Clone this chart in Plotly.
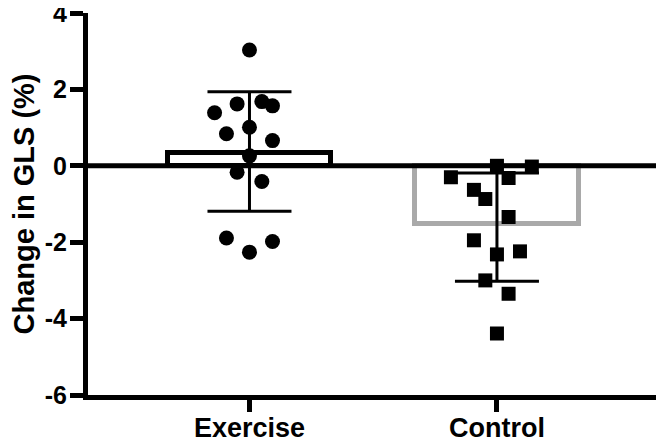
import plotly.graph_objects as go

# Group summary (bar height and error bar ends)
groups = ["Exercise", "Control"]
group_x = [1, 2]
bar_mean = [0.34, -1.53]
err_plus = [1.60, 1.34]
err_minus = [1.53, 1.49]

# Individual subjects
ex_change = [3.03, 1.62, 1.68, 1.57, 1.39, 1.01, 0.84, 0.66, 0.26, -0.17, -0.41, -1.89, -1.98, -2.26]
ex_jitter = [0, -0.05, 0.05, 0.093, -0.141, 0, -0.093, 0.093, 0, -0.05, 0.05, -0.093, 0.093, 0]
ct_change = [0.0, -0.02, -0.30, -0.32, -0.63, -0.87, -1.34, -1.95, -2.24, -2.32, -3.00, -3.35, -4.39]
ct_jitter = [0, 0.141, -0.186, 0.047, -0.093, -0.047, 0.047, -0.093, 0.093, 0, -0.047, 0.047, 0]

y_ticks = [-6, -4, -2, 0, 2, 4]
y_ticktext = ["-6", "-4", "-2", "0", "2", "4"]

FONT = "Arial, Liberation Sans, sans-serif"

fig = go.Figure()

fig.add_trace(go.Bar(
    x=group_x, y=bar_mean, width=0.66,
    marker=dict(color="white", line=dict(color=["black", "#a9a9a9"], width=5)),
    error_y=dict(type="data", symmetric=False, array=err_plus, arrayminus=err_minus,
                 color="black", thickness=3, width=42),
    showlegend=False))

fig.add_trace(go.Scatter(
    x=[group_x[0] + j for j in ex_jitter], y=ex_change, mode="markers",
    marker=dict(symbol="circle", size=15, color="black"), showlegend=False))

fig.add_trace(go.Scatter(
    x=[group_x[1] + j for j in ct_jitter], y=ct_change, mode="markers",
    marker=dict(symbol="square", size=14, color="black"), showlegend=False))

# zero reference line drawn over the bar outlines
fig.add_hline(y=0, line=dict(color="black", width=5), layer="above")

# page body has an 8px margin, so the figure is sized to fill the rest of the window
fig.update_layout(
    width=656, height=434,
    margin=dict(l=80, r=0, t=5, b=47),
    plot_bgcolor="white", paper_bgcolor="white",
    font=dict(family=FONT, color="black"),
    bargap=0,
)
fig.update_xaxes(
    range=[0.3475, 2.675], tickvals=group_x, ticktext=groups,
    showline=True, linecolor="black", linewidth=5,
    ticks="outside", ticklen=12, tickwidth=5, tickcolor="black",
    tickfont=dict(size=27, family=FONT, weight="bold"),
    ticklabelstandoff=-7,
    automargin=False,
    showgrid=False, zeroline=False)
fig.update_yaxes(
    range=[-6, 4], tickvals=y_ticks, ticktext=y_ticktext,
    showline=True, linecolor="black", linewidth=5,
    ticks="outside", ticklen=13, tickwidth=5, tickcolor="black",
    tickfont=dict(size=25, family=FONT, weight="bold"),
    ticklabelstandoff=-2, ticklabeloverflow="allow",
    title=dict(text="Change in GLS (%)", font=dict(size=29, family=FONT, weight="bold"), standoff=4),
    automargin=False,
    showgrid=False, zeroline=False)

fig.write_html("out.html")
